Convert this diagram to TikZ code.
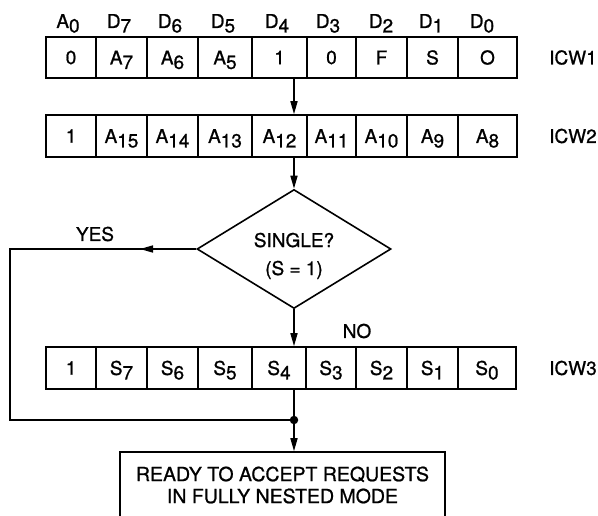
\documentclass[tikz,border=0pt]{standalone}
\usepackage{fontspec}
\setmainfont{TeX Gyre Heros}[FakeBold=0.9]
\usetikzlibrary{shapes.geometric,arrows.meta}

% lowered index digit, same size as the letter
\newcommand{\lo}[1]{\raisebox{-4.5pt}[0pt][0pt]{#1}}

\begin{document}
\begin{tikzpicture}[x=1pt,y=-1pt,
  every node/.style={font=\fontsize{19}{22}\selectfont},
  cell/.style={draw, line width=1.6pt, inner sep=0pt},
  link/.style={line width=1.6pt},
  arr/.style={link, -{Triangle[length=13pt,width=7pt]}},
]
\useasboundingbox (0,0) rectangle (598,515);
\clip (0,0) rectangle (598,515);

% bit headings
\foreach \x/\t [count=\i] in {68/{A\lo{0}}, 119/{D\lo{7}}, 170/{D\lo{6}}, 223/{D\lo{5}},
    277/{D\lo{4}}, 328/{D\lo{3}}, 381/{D\lo{2}}, 431/{D\lo{1}}, 482/{D\lo{0}}}
  \node (h\i) at (\x,21) {\t};

% ICW1
\foreach \l/\r/\t [count=\i] in {46/96/0, 96/147/{A\lo{7}}, 147/198/{A\lo{6}}, 198/252/{A\lo{5}},
    252/307/1, 307/356/0, 356/407/F, 407/458/S, 458/517/O}
  \node[cell, minimum width={(\r-\l)*1pt}, minimum height=41pt] (ra\i) at ({(\l+\r)/2},57.5) {\t};
% ICW2
\foreach \l/\r/\t [count=\i] in {46/96/1, 96/147/{A\lo{15}}, 147/198/{A\lo{14}}, 198/252/{A\lo{13}},
    252/307/{A\lo{12}}, 307/356/{A\lo{11}}, 356/407/{A\lo{10}}, 407/458/{A\lo{9}}, 458/517/{A\lo{8}}}
  \node[cell, minimum width={(\r-\l)*1pt}, minimum height=42pt] (rb\i) at ({(\l+\r)/2},136) {\t};
% ICW3
\foreach \l/\r/\t [count=\i] in {46/96/1, 96/147/{S\lo{7}}, 147/198/{S\lo{6}}, 198/252/{S\lo{5}},
    252/306/{S\lo{4}}, 306/356/{S\lo{3}}, 356/407/{S\lo{2}}, 407/458/{S\lo{1}}, 458/516/{S\lo{0}}}
  \node[cell, minimum width={(\r-\l)*1pt}, minimum height=42pt] (rc\i) at ({(\l+\r)/2},368) {\t};

\node (icw1) at (573,57.5) {ICW1};
\node (icw2) at (573,136) {ICW2};
\node (icw3) at (573,368) {ICW3};

% decision
\node[draw, diamond, aspect=1.63, line width=1.6pt, inner sep=0pt,
      minimum width=194pt, minimum height=119pt] (d) at (294,249) {};
\node[anchor=base] (dq1) at (294,247) {SINGLE?};
\node[anchor=base] (dq2) at (294,275) {(S = 1)};

% final state
\node[draw, line width=1.6pt, align=center, inner sep=0pt,
      minimum width=325pt, minimum height=66pt,
      font=\fontsize{19.5}{22}\selectfont] (fb) at (282.5,485)
  {READY TO ACCEPT REQUESTS\\IN FULLY NESTED MODE};

% junction
\node[circle, fill, inner sep=0pt, minimum size=8.5pt] (j) at (294,420) {};
\coordinate (yl) at (10,249);
\coordinate (ya) at (140,249);

% flow
\draw[arr] (ra5.south -| d.north) -- (rb5.north -| d.north);
\draw[arr] (rb5.south -| d.north) -- (d.north);
\draw[arr] (d.south) -- (rc5.north -| d.south);
\draw[link] (rc5.south -| d.south) -- (j.center);
\draw[arr] (j.center) -- (fb.north -| j);
\draw[link] (d.west) -- (yl) |- (j.center);
\draw[arr] (d.west) -- (ya);

\node (yes) at (95,234) {YES};
\node (no) at (357,331) {NO};
\end{tikzpicture}
\end{document}
